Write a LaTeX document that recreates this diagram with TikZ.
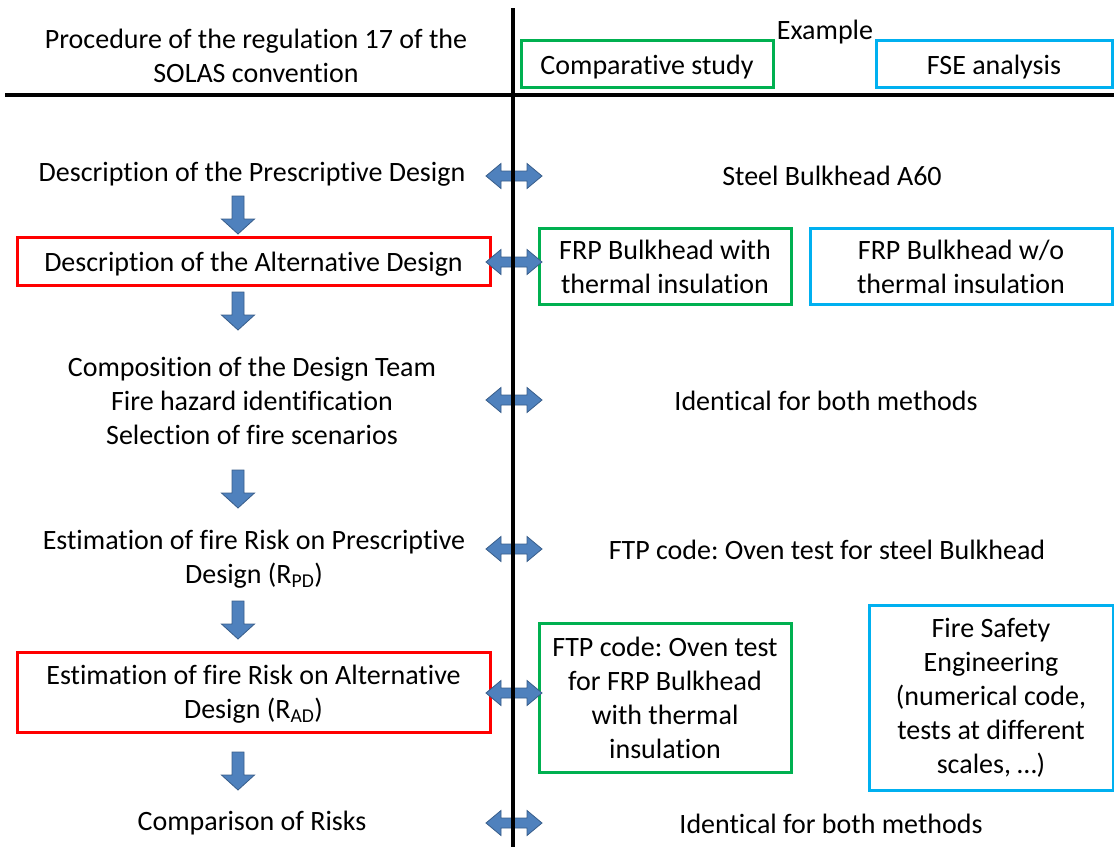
\documentclass[tikz,border=0pt]{standalone}
\usepackage{fontspec}
\setmainfont{Carlito}[Ligatures=NoCommon]
\frenchspacing
\begin{document}
\begin{tikzpicture}[x=1pt,y=-1pt,
  txt/.style={font=\fontsize{28}{34}\selectfont, align=center, inner sep=0pt},
  frame/.style={txt, line width=3pt, minimum width=#1},
  oneline/.style={text height=21pt, text depth=0pt},
  redbox/.style={frame=473, draw=red},
  greenbox/.style={frame=252, draw=fgreen},
  bluebox/.style={frame=#1, draw=fblue},
  blockarrow/.style={fill=ablue, draw=adark, line width=0.8pt, line join=miter},
  rule/.style={line width=3.5pt, black},
  darrow/.pic={\draw[blockarrow] (-28,0) -- (-13,-12.5) -- (-13,-5) -- (13,-5) -- (13,-12.5)
      -- (28,0) -- (13,12.5) -- (13,5) -- (-13,5) -- (-13,12.5) -- cycle;},
  varrow/.pic={\draw[blockarrow] (-6,0) -- (6,0) -- (6,23) -- (16.5,23) -- (0,38)
      -- (-16.5,23) -- (-6,23) -- cycle;}
]
\definecolor{fgreen}{HTML}{00B050}
\definecolor{fblue}{HTML}{00B0F0}
\definecolor{ablue}{HTML}{4F81BD}
\definecolor{adark}{HTML}{385D8A}
\useasboundingbox (0,0) rectangle (1114,847);

% header
\node[txt] (proc) at (256,56) {Procedure of the regulation 17 of the\\SOLAS convention};
\node[txt] (ex) at (825,32) {Example};
\node[greenbox, oneline, minimum height=47] (comp) at (647,63.5) {Comparative study};
\node[bluebox=236, oneline, minimum height=47] (fse) at (994,63.5) {FSE analysis};

% left column: procedure steps
\node[txt] (s1) at (252,174) {Description of the Prescriptive Design};
\node[redbox, oneline, minimum height=48] (s2) at (253.5,261) {Description of the Alternative Design};
\node[txt] (s3) at (252,401) {Composition of the Design Team\\Fire hazard identification\\Selection of fire scenarios};
\node[txt] (s4) at (254,559) {Estimation of fire Risk on Prescriptive\\Design (R\textsubscript{PD})};
\node[redbox, text depth=-4pt, minimum height=80] (s5) at (253.5,692) {Estimation of fire Risk on Alternative\\Design (R\textsubscript{AD})};
\node[txt] (s6) at (252,823) {Comparison of Risks};

% right column: example
\node[txt] (e1) at (832,176) {Steel Bulkhead A60};
\node[greenbox, minimum height=76] (e2a) at (665,266.5) {FRP Bulkhead with\\thermal insulation};
\node[bluebox=302, minimum height=76] (e2b) at (961,266.5) {FRP Bulkhead w/o\\thermal insulation};
\node[txt] (e3) at (826,401) {Identical for both methods};
\node[txt] (e4) at (827,550) {FTP code: Oven test for steel Bulkhead};
\node[greenbox, minimum height=149] (e5a) at (665,697.5) {FTP code: Oven test\\for FRP Bulkhead\\with thermal\\insulation};
\node[bluebox=244, minimum height=185] (e5b) at (991,697.5) {Fire Safety\\Engineering\\(numerical code,\\tests at different\\scales, \dots)};
\node[txt] (e6) at (831,824) {Identical for both methods};

% flow arrows between the steps
\pic at (238,196) {varrow};
\pic at (238,292) {varrow};
\pic at (238,470) {varrow};
\pic at (238,601) {varrow};
\pic at (238,752) {varrow};

% correspondence arrows
\foreach \yy in {176,262,400,549,693,823} \pic at (514,\yy) {darrow};

% separating rules
\draw[rule] (513,8) -- (513,847);
\draw[rule] (5,95) -- (1114,95);
\end{tikzpicture}
\end{document}
